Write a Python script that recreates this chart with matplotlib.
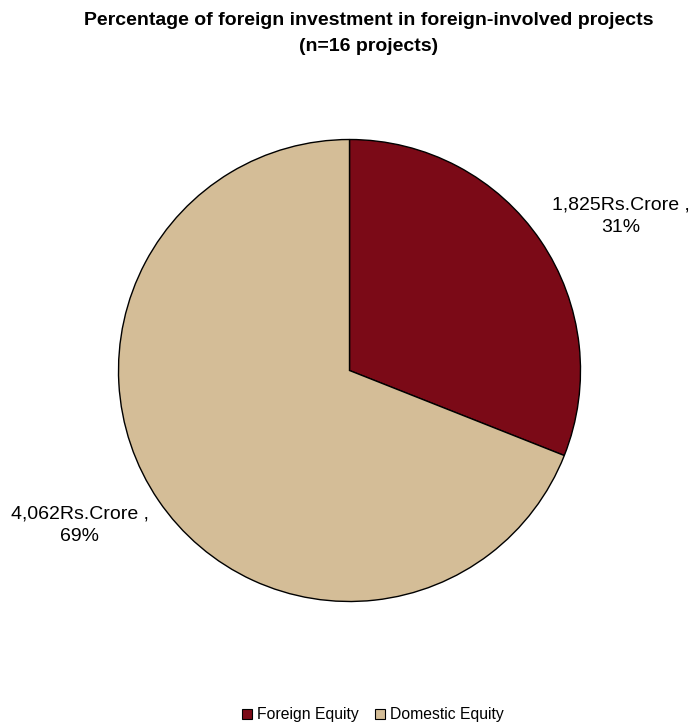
import matplotlib
matplotlib.use("Agg")
import matplotlib.pyplot as plt
from matplotlib.patches import Patch

plt.rcParams['font.family'] = ['Liberation Sans', 'DejaVu Sans']

categories = ["Foreign Equity", "Domestic Equity"]
values = [1825, 4062]  # Rs. Crore
colors = ["#7B0A17", "#D4BD97"]
title = "Percentage of foreign investment in foreign-involved projects\n(n=16 projects)"

W, H = 691, 726
fig = plt.figure(figsize=(W / 100, H / 100), dpi=100)

# pie axes: centre (349.5, 370.5) px from top-left, radius 231 px
cx, cy, r = 349.5, 370.5, 231
ax = fig.add_axes([(cx - r) / W, (H - cy - r) / H, 2 * r / W, 2 * r / H])
wedges, _ = ax.pie(values, colors=colors, startangle=90, counterclock=False,
                   radius=1.0,
                   wedgeprops=dict(edgecolor="black", linewidth=1.0))
ax.set_xlim(-1, 1)
ax.set_ylim(-1, 1)
ax.set_aspect("equal")
ax.axis("off")

total = sum(values)
label_pos = [(1.175, 0.667), (-1.169, -0.671)]
for v, (lx, ly) in zip(values, label_pos):
    pct = round(100 * v / total)
    ax.text(lx, ly, f"{v:,}Rs.Crore ,\n{pct}%", ha="center", va="center",
            fontsize=14, linespacing=1.45, clip_on=False)

fig.text(369 / W, 1 - 33.5 / H, title, ha="center", va="center",
         fontsize=14, fontweight="bold", linespacing=1.75)

handles = [Patch(facecolor=c, edgecolor="black", linewidth=0.8) for c in colors]
fig.legend(handles, categories, loc="center", bbox_to_anchor=(373 / W, 1 - 715 / H),
           ncol=2, frameon=False, fontsize=11.3, handlelength=0.64, handleheight=0.64,
           handletextpad=0.35, columnspacing=1.0, borderpad=0)

fig.savefig("out.png", dpi=100)
